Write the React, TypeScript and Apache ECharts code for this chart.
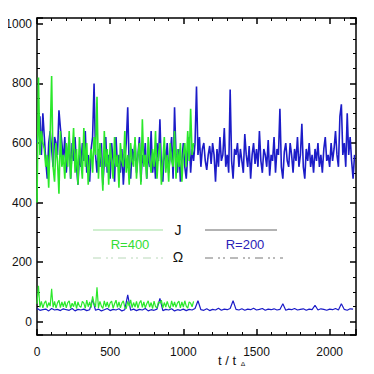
import React, { useEffect, useRef } from "react";
import * as echarts from "echarts";

const xTicks = [0, 500, 1000, 1500, 2000];
const yTicks = [0, 200, 400, 600, 800, 1000];

const stepJ = 10;
const blueJ = [
  600, 650, 690, 560, 700, 620, 540, 480, 600, 640,
  580, 520, 620, 600, 560, 710, 650, 600, 540, 620,
  500, 560, 620, 480, 600, 540, 620, 520, 460, 560,
  520, 600, 540, 640, 500, 560, 470, 580, 620, 800,
  560, 500, 580, 520, 600, 460, 540, 620, 500, 560,
  480, 600, 540, 470, 620, 520, 560, 500, 580, 460,
  540, 600, 720, 520, 480, 580, 540, 610, 500, 560,
  620, 470, 560, 530, 600, 480, 570, 520, 640, 500,
  560, 480, 600, 540, 680, 520, 470, 580, 540, 600,
  500, 560, 620, 480, 720, 560, 500, 580, 470, 540,
  600, 520, 480, 560, 620, 500, 580, 540, 600, 790,
  560, 620, 520, 580, 600, 540, 510, 560, 590, 530,
  600, 560, 470, 580, 520, 620, 540, 560, 650, 520,
  560, 500, 780, 540, 480, 580, 560, 600, 520, 580,
  540, 500, 630, 560, 520, 590, 480, 560, 600, 530,
  580, 520, 640, 540, 500, 580, 560, 520, 610, 490,
  560, 540, 620, 500, 580, 560, 715, 520, 480, 570,
  600, 540, 520, 600, 560, 500, 580, 540, 620, 520,
  560, 665, 520, 480, 580, 540, 600, 520, 560, 500,
  580, 540, 600, 520, 560, 500, 580, 620, 540, 560,
  520, 600, 540, 580, 640, 560, 520, 690, 730, 560,
  600, 520, 700, 560, 620, 540, 480, 560,
];
const greenJ = [
  400, 820, 560, 640, 600, 580, 520, 560, 450, 620,
  825, 520, 470, 600, 540, 430, 640, 520, 560, 480,
  600, 520, 640, 480, 560, 650, 500, 580, 460, 620,
  540, 480, 650, 520, 600, 460, 540, 580, 500, 620,
  560, 755, 480, 600, 540, 440, 640, 520, 580, 460,
  600, 540, 480, 620, 520, 560, 450, 600, 540, 520,
  640, 500, 560, 460, 600, 540, 520, 620, 480, 560,
  600, 460, 680, 520, 560, 480, 620, 540, 500, 580,
  520, 640, 480, 560, 600, 460, 540, 620, 500, 560,
  470, 600, 540, 520, 640, 480, 580, 520, 600, 470,
  560, 600, 520, 640, 540, 715, 560, 600,
];
const stepOmegaBlue = 20;
const blueOmega = [
  45, 38, 40, 42, 36, 44, 39, 41, 37, 43,
  40, 38, 44, 36, 41, 39, 42, 37, 40, 75,
  38, 42, 36, 40, 44, 37, 41, 39, 43, 36,
  40, 90, 38, 42, 37, 41, 39, 44, 36, 40,
  38, 42, 78, 37, 41, 39, 43, 36, 40, 38,
  42, 37, 41, 39, 44, 70, 40, 38, 43, 37,
  41, 39, 45, 38, 42, 40, 44, 70, 41, 39,
  43, 38, 42, 40, 45, 39, 41, 44, 38, 42,
  40, 43, 39, 41, 60, 38, 42, 40, 44, 39,
  41, 43, 38, 42, 40, 55, 39, 43, 41, 38,
  42, 40, 44, 39, 60, 41, 38, 43, 42,
];
const stepOmegaGreen = 10;
const greenOmega = [
  60, 120, 48, 68, 46, 62, 70, 47, 64, 52,
  110, 48, 68, 45, 63, 72, 47, 66, 50, 68,
  46, 64, 70, 45, 62, 50, 69, 44, 66, 52,
  48, 68, 62, 45, 72, 50, 66, 47, 85, 60,
  49, 115, 46, 68, 52, 44, 70, 50, 66, 47,
  63, 69, 45, 60, 72, 48, 66, 46, 62, 70,
  49, 44, 68, 52, 73, 47, 64, 49, 68, 45,
  63, 71, 48, 66, 46, 60, 70, 49, 64, 44,
  69, 50, 47, 66, 62, 72, 46, 64, 49, 68,
  52, 44, 70, 50, 66, 48, 63, 69, 46, 66,
  49, 70, 52, 45, 66, 62, 50, 68,
];

const GREEN = "#2be82b";
const BLUE = "#1c1cc8";
const FONT = "Liberation Sans";

const pairs = (arr: number[], step: number) => arr.map((v, i) => [i * step, v]);

export default function App() {
  const ref = useRef<HTMLDivElement>(null);
  useEffect(() => {
    if (!ref.current) return;
    const chart = echarts.init(ref.current, undefined, { renderer: "svg" });
    const axisCommon = {
      axisLine: { show: true, onZero: false, lineStyle: { color: "#000", width: 1.5 } },
      axisTick: { show: true, inside: true, length: 6, lineStyle: { color: "#000", width: 1.5 } },
      minorTick: { show: true, length: 3, lineStyle: { color: "#000", width: 1 } },
      splitLine: { show: false },
    };
    chart.setOption({
      animation: false,
      backgroundColor: "#fff",
      grid: { left: 37, right: 18, top: 18, bottom: 39 },
      xAxis: [
        {
          type: "value",
          min: 0,
          max: 2180,
          interval: 500,
          position: "bottom",
          ...axisCommon,
          minorTick: { ...axisCommon.minorTick, splitNumber: 5 },
          axisLabel: {
            show: true,
            margin: 11,
            color: "#111",
            fontFamily: FONT,
            fontSize: 12,
            showMaxLabel: false,
            formatter: (v: number) => (xTicks.includes(v) ? String(v) : ""),
          },
        },
        {
          type: "value",
          min: 0,
          max: 2180,
          interval: 500,
          position: "top",
          ...axisCommon,
          minorTick: { ...axisCommon.minorTick, splitNumber: 5 },
          axisLabel: { show: false },
        },
      ],
      yAxis: [
        {
          type: "value",
          min: -45,
          max: 1020,
          splitNumber: 5,
          position: "left",
          ...axisCommon,
          minorTick: { ...axisCommon.minorTick, splitNumber: 4 },
          axisLabel: {
            show: true,
            margin: 5,
            color: "#111",
            fontFamily: FONT,
            fontSize: 12,
            showMinLabel: false,
            showMaxLabel: false,
            formatter: (v: number) => (yTicks.includes(v) ? String(v) : ""),
          },
        },
        {
          type: "value",
          min: -45,
          max: 1020,
          splitNumber: 5,
          position: "right",
          ...axisCommon,
          minorTick: { ...axisCommon.minorTick, splitNumber: 4 },
          axisLabel: { show: false },
        },
      ],
      series: [
        {
          name: "J R=200",
          type: "line",
          data: pairs(blueJ, stepJ),
          showSymbol: false,
          lineStyle: { color: BLUE, width: 1.6 },
          z: 2,
        },
        {
          name: "J R=400",
          type: "line",
          data: pairs(greenJ, stepJ),
          showSymbol: false,
          lineStyle: { color: GREEN, width: 1.6 },
          z: 3,
        },
        {
          name: "Omega R=200",
          type: "line",
          data: pairs(blueOmega, stepOmegaBlue),
          showSymbol: false,
          lineStyle: { color: BLUE, width: 1.2 },
          z: 2,
        },
        {
          name: "Omega R=400",
          type: "line",
          data: pairs(greenOmega, stepOmegaGreen),
          showSymbol: false,
          lineStyle: { color: GREEN, width: 1.2 },
          z: 3,
        },
      ],
      graphic: [
        { type: "line", shape: { x1: 93, y1: 230, x2: 163, y2: 230 }, style: { stroke: "#9fe09f", lineWidth: 1 } },
        { type: "text", x: 178, y: 230, style: { text: "J", fill: "#111", font: `14px ${FONT}`, align: "center", verticalAlign: "middle" } },
        { type: "line", shape: { x1: 205, y1: 230, x2: 277, y2: 230 }, style: { stroke: "#666", lineWidth: 1 } },
        { type: "text", x: 130, y: 244, style: { text: "R=400", fill: "#33dd33", font: `13px ${FONT}`, align: "center", verticalAlign: "middle" } },
        { type: "text", x: 245, y: 244, style: { text: "R=200", fill: "#2a22b8", font: `13px ${FONT}`, align: "center", verticalAlign: "middle" } },
        { type: "line", shape: { x1: 93, y1: 258, x2: 163, y2: 258 }, style: { stroke: "#b8d8b8", lineWidth: 1, lineDash: [8, 5, 2, 3, 2, 5] } },
        { type: "text", x: 178, y: 257, style: { text: "Ω", fill: "#111", font: `14px ${FONT}`, align: "center", verticalAlign: "middle" } },
        { type: "line", shape: { x1: 205, y1: 258, x2: 283, y2: 258 }, style: { stroke: "#777", lineWidth: 1, lineDash: [8, 5, 2, 3, 2, 5] } },
        { type: "text", x: 227, y: 360, style: { text: "t / t", fill: "#111", font: `13px ${FONT}`, align: "center", verticalAlign: "middle" } },
        { type: "text", x: 240, y: 365, style: { text: "A", fill: "#111", font: `9px ${FONT}`, align: "left", verticalAlign: "middle" } },
      ],
    });
    return () => chart.dispose();
  }, []);
  return <div ref={ref} style={{ width: 374, height: 374, margin: -8 }} />;
}
